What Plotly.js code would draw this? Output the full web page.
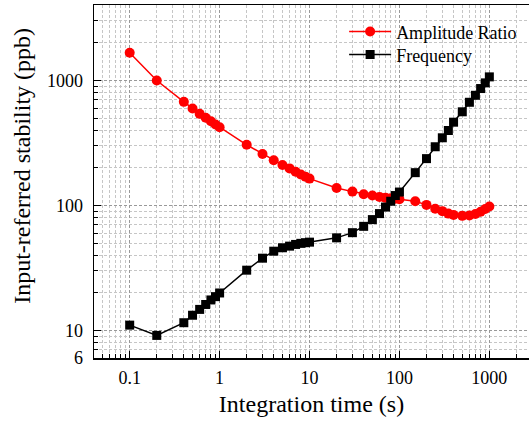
<!DOCTYPE html>
<html>
<head>
<meta charset="utf-8">
<script src="https://cdn.plot.ly/plotly-3.0.1.min.js"></script>
<style>
html,body{margin:0;padding:0;background:#fff;}
#chart{width:529px;height:423px;}
</style>
</head>
<body>
<div id="chart"></div>
<script>
// Integration time (s)
const integrationTime = [0.1,0.2,0.4,0.5,0.6,0.7,0.8,0.9,1,2,3,4,5,6,7,8,9,10,20,30,40,50,60,70,80,90,100,150,200,250,300,350,400,500,600,700,800,900,1000];
// Amplitude Ratio (ppb)
const amplitudeRatio = [1670,1000,675,597,541,503,472,445,423,306,258,230,211,198,186,177,170,164,138,129,123,120,117,115,114,113,112,108,101,94,90,86,84,82.5,83,85.5,89,93.5,98];
// Frequency (ppb)
const frequency = [11.0,9.1,11.5,13.2,14.7,16.1,17.5,18.6,19.9,30.3,37.8,43,45.8,47.2,48.7,49.7,50.3,50.8,55,60.5,68,77,86,97,108,120,128,183,237,295,348,398,464,562,670,762,863,958,1070];

const seriesNames = ["Amplitude Ratio","Frequency"];
const xTickVals = [0.1,1,10,100,1000];
const xTickText = ["0.1","1","10","100","1000"];
const xMinorVals = [0.05,0.06,0.07,0.08,0.09,0.2,0.3,0.4,0.5,0.6,0.7,0.8,0.9,2,3,4,5,6,7,8,9,20,30,40,50,60,70,80,90,200,300,400,500,600,700,800,900,2000];
const yTickVals = [6,10,100,1000];
const yTickText = ["6","10","100","1000"];
const yMinorVals = [7,8,9,20,30,40,50,60,70,80,90,200,300,400,500,600,700,800,900,2000,3000];
const xTitle = "Integration time (s)";
const yTitle = "Input-referred stability (ppb)";

const FONT = "Liberation Serif";

const traces = [
  {
    x: integrationTime, y: amplitudeRatio, name: seriesNames[0],
    type: "scatter", mode: "lines+markers", legend: "legend",
    line: {color: "#ff0000", width: 1.5},
    marker: {color: "#ff0000", symbol: "circle", size: 10}
  },
  {
    x: integrationTime, y: frequency, name: seriesNames[1],
    type: "scatter", mode: "lines+markers", legend: "legend2",
    line: {color: "#000000", width: 1.5},
    marker: {color: "#000000", symbol: "square", size: 9}
  }
];

const majorGrid = "#999999";
const minorGrid = "#c6c6c6";

const legendBase = {
  xanchor: "left", yanchor: "middle",
  bgcolor: "rgba(0,0,0,0)", borderwidth: 0,
  font: {family: FONT, size: 18, color: "#000"},
  itemwidth: 42
};

const layout = {
  width: 529, height: 423,
  margin: {l: 94, r: 0, t: 5, b: 65},
  paper_bgcolor: "#ffffff", plot_bgcolor: "#ffffff",
  font: {family: FONT, color: "#000", size: 18},
  showlegend: true,
  legend: Object.assign({x: 0.575, y: 0.924}, legendBase),
  legend2: Object.assign({x: 0.575, y: 0.859}, legendBase),
  xaxis: {
    type: "log", range: [-1.397, 3.441],
    tickmode: "array", tickvals: xTickVals, ticktext: xTickText,
    ticks: "inside", ticklen: 7, tickwidth: 1.2, tickcolor: "#000",
    ticklabelstandoff: 3,
    showline: true, linewidth: 1.5, linecolor: "#000", mirror: true,
    showgrid: true, gridcolor: majorGrid, griddash: "3px,2px", gridwidth: 1,
    zeroline: false,
    tickfont: {family: FONT, size: 18, color: "#000"},
    title: {text: xTitle, font: {family: FONT, size: 24, color: "#000"}, standoff: 8},
    minor: {
      tickmode: "array", tickvals: xMinorVals,
      ticks: "inside", ticklen: 4, tickwidth: 1, tickcolor: "#000",
      showgrid: true, gridcolor: minorGrid, griddash: "3px,2px", gridwidth: 1
    }
  },
  yaxis: {
    type: "log", range: [Math.log10(6), 3.605],
    tickmode: "array", tickvals: yTickVals, ticktext: yTickText,
    ticks: "inside", ticklen: 7, tickwidth: 1.2, tickcolor: "#000",
    ticklabelstandoff: 6,
    showline: true, linewidth: 1.5, linecolor: "#000",
    showgrid: true, gridcolor: majorGrid, griddash: "3px,2px", gridwidth: 1,
    zeroline: false,
    tickfont: {family: FONT, size: 18, color: "#000"},
    title: {text: ""},
    minor: {
      tickmode: "array", tickvals: yMinorVals,
      ticks: "inside", ticklen: 4, tickwidth: 1, tickcolor: "#000",
      showgrid: true, gridcolor: minorGrid, griddash: "3px,2px", gridwidth: 1
    }
  },
  annotations: [{
    text: yTitle, textangle: -90,
    xref: "paper", yref: "paper", x: -0.1655, y: 0.5444,
    xanchor: "center", yanchor: "middle", showarrow: false,
    font: {family: FONT, size: 24, color: "#000"}
  }]
};

Plotly.newPlot("chart", traces, layout, {staticPlot: true, displayModeBar: false});
</script>
</body>
</html>
